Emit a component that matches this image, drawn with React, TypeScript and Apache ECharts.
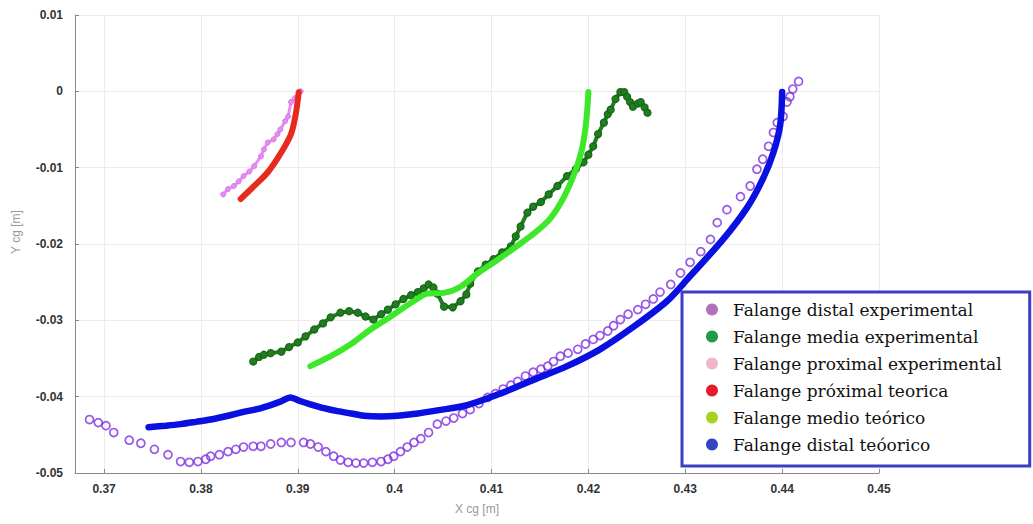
import React, { useEffect, useRef } from "react";
import * as echarts from "echarts";

// Falange distal experimental (open purple circles)
const distalExp: [number, number][] = [
  [0.3685, -0.043], [0.3694, -0.0434], [0.3702, -0.0438], [0.371, -0.0447], [0.3726, -0.0457],
  [0.3738, -0.0461], [0.3752, -0.0469], [0.3766, -0.0476], [0.3779, -0.0485], [0.3788, -0.0486],
  [0.3797, -0.0485], [0.3805, -0.0482], [0.381, -0.0478], [0.3819, -0.0476], [0.3828, -0.0472],
  [0.3836, -0.0469], [0.3844, -0.0466], [0.3854, -0.0465], [0.3862, -0.0465], [0.3872, -0.0462],
  [0.3883, -0.046], [0.3893, -0.046], [0.3906, -0.046], [0.3913, -0.0462], [0.3921, -0.0466],
  [0.3929, -0.0472], [0.3937, -0.0478], [0.3944, -0.0483], [0.3952, -0.0486], [0.396, -0.0487],
  [0.3968, -0.0487], [0.3977, -0.0486], [0.3986, -0.0485], [0.3993, -0.0482], [0.3999, -0.0478],
  [0.4006, -0.0472], [0.4013, -0.0466], [0.402, -0.046], [0.4027, -0.0455], [0.4035, -0.0447],
  [0.4044, -0.0436], [0.4053, -0.0432], [0.4061, -0.0428], [0.407, -0.0422], [0.4078, -0.0417],
  [0.4087, -0.0409], [0.4096, -0.0401], [0.4104, -0.0396], [0.4112, -0.039], [0.412, -0.0385],
  [0.4127, -0.038], [0.4135, -0.0373], [0.4143, -0.0368], [0.4151, -0.0364], [0.4158, -0.036],
  [0.4164, -0.0354], [0.4171, -0.0347], [0.4179, -0.0343], [0.4189, -0.0338], [0.4197, -0.0331],
  [0.4205, -0.0325], [0.4212, -0.032], [0.422, -0.0314], [0.4226, -0.0307], [0.4233, -0.0299],
  [0.4241, -0.0292], [0.4251, -0.0286], [0.4259, -0.0279], [0.4267, -0.0272], [0.4274, -0.0263],
  [0.4285, -0.0253], [0.4295, -0.0238], [0.4305, -0.0224], [0.4316, -0.021], [0.4326, -0.0194],
  [0.4333, -0.0172], [0.4343, -0.0155], [0.4357, -0.0138], [0.4367, -0.0124], [0.4374, -0.0102],
  [0.438, -0.0089], [0.4386, -0.0072], [0.4391, -0.0054], [0.4395, -0.0041], [0.4401, -0.0033],
  [0.4405, -0.0014], [0.4408, -0.0007], [0.4411, 0.0003], [0.4417, 0.0013],
];

// Falange media experimental (dark green dots)
const mediaExp: [number, number][] = [
  [0.3854, -0.0354], [0.386, -0.0348], [0.3865, -0.0345], [0.3872, -0.0343], [0.3883, -0.0341],
  [0.3891, -0.0335], [0.39, -0.0329], [0.3908, -0.0321], [0.3917, -0.0312], [0.3926, -0.0304],
  [0.3934, -0.0296], [0.3944, -0.029], [0.3953, -0.0288], [0.3962, -0.029], [0.397, -0.0295],
  [0.3978, -0.0299], [0.3986, -0.0292], [0.3993, -0.0286], [0.4001, -0.0279], [0.4009, -0.0272],
  [0.4017, -0.0267], [0.4024, -0.0263], [0.403, -0.0258], [0.4035, -0.0253], [0.404, -0.0257],
  [0.4044, -0.0265], [0.4051, -0.0282], [0.406, -0.0283], [0.4068, -0.0275], [0.4074, -0.0266],
  [0.4078, -0.0252], [0.4086, -0.0236], [0.4094, -0.0227], [0.4102, -0.022], [0.4111, -0.0211],
  [0.412, -0.0203], [0.4125, -0.019], [0.413, -0.0177], [0.4137, -0.0159], [0.4143, -0.0151],
  [0.4151, -0.0145], [0.4159, -0.0135], [0.4168, -0.0124], [0.4178, -0.0111], [0.4187, -0.0102],
  [0.4195, -0.0093], [0.42, -0.0083], [0.4205, -0.0072], [0.421, -0.0056], [0.4216, -0.0041],
  [0.422, -0.003], [0.4223, -0.0024], [0.4228, -0.001], [0.4233, -0.0001], [0.4237, -0.0001],
  [0.424, -0.0007], [0.4243, -0.0014], [0.4246, -0.002], [0.4251, -0.0016], [0.4254, -0.0014],
  [0.4258, -0.0021], [0.4261, -0.0028],
];

// Falange proximal experimental (light violet dots)
const proximalExp: [number, number][] = [
  [0.3823, -0.0135], [0.3828, -0.0128], [0.3834, -0.0124], [0.3839, -0.0118], [0.3844, -0.0111],
  [0.385, -0.0105], [0.3855, -0.0098], [0.3862, -0.0085], [0.3865, -0.0076], [0.3869, -0.0067],
  [0.3875, -0.0063], [0.3879, -0.0056], [0.3882, -0.005], [0.3887, -0.0039], [0.389, -0.0033],
  [0.3893, -0.0014], [0.3897, -0.0009], [0.39, -0.0007], [0.3903, 0.0],
];

// Falange próximal teorica (red line)
const proximalTeo: [number, number][] = [
  [0.3841, -0.0141], [0.3855, -0.0124], [0.3869, -0.0106], [0.3882, -0.0082],
  [0.3893, -0.0056], [0.3898, -0.0029], [0.3901, -0.0001],
];

// Falange medio teórico (light green line)
const medioTeo: [number, number][] = [
  [0.3913, -0.036], [0.3934, -0.0347], [0.3955, -0.0331], [0.3975, -0.0312], [0.3996, -0.0295],
  [0.4017, -0.0277], [0.4034, -0.0265], [0.4051, -0.0264], [0.4068, -0.0256], [0.4086, -0.0238],
  [0.4106, -0.0221], [0.4127, -0.0202], [0.4145, -0.0185], [0.4161, -0.0166], [0.4175, -0.0138],
  [0.4186, -0.0106], [0.4194, -0.0072], [0.4198, -0.0036], [0.42, -0.0001],
];

// Falange distal teóorico (blue line)
const distalTeo: [number, number][] = [
  [0.3746, -0.044], [0.3764, -0.0438], [0.3779, -0.0436], [0.3795, -0.0433], [0.381, -0.043],
  [0.3828, -0.0425], [0.3844, -0.042], [0.3859, -0.0416], [0.3872, -0.0411], [0.3883, -0.0406],
  [0.3892, -0.0401], [0.3903, -0.0406], [0.3913, -0.041], [0.3927, -0.0415], [0.3941, -0.0419],
  [0.3955, -0.0422], [0.3968, -0.0425], [0.3986, -0.0426], [0.4003, -0.0425], [0.4024, -0.0422],
  [0.4044, -0.0418], [0.4075, -0.0411], [0.4109, -0.0396], [0.4143, -0.0378], [0.4178, -0.036],
  [0.4212, -0.0338], [0.4246, -0.0309], [0.4281, -0.0275], [0.4305, -0.0242], [0.4339, -0.0194],
  [0.4364, -0.0152], [0.438, -0.0115], [0.4391, -0.008], [0.4398, -0.0044], [0.44, -0.0001],
];

const seriesNames = [
  "Falange distal experimental",
  "Falange media experimental",
  "Falange proximal experimental",
  "Falange próximal teorica",
  "Falange medio teórico",
  "Falange distal teóorico",
];
const legendColors = ["#9b4fa8", "#1f9a48", "#f2b3cc", "#e41c2a", "#a6d41e", "#3544c4"];

const xMin = 0.367;
const xMax = 0.45;
const yMin = -0.05;
const yMax = 0.01;
const yInterval = 0.01;

export default function App() {
  const ref = useRef<HTMLDivElement>(null);
  useEffect(() => {
    if (!ref.current) return;
    const chart = echarts.init(ref.current, undefined, { renderer: "svg" });
    const labelFont = "'Liberation Sans', Arial, sans-serif";
    const axisCommon = {
      axisLine: { show: true, onZero: false, lineStyle: { color: "#8a8a8a", width: 1 } },
      axisTick: { show: true, inside: true, length: 4, lineStyle: { color: "#8a8a8a" } },
      splitLine: { show: true, lineStyle: { color: "#ececec", width: 1 } },
      axisLabel: {
        color: "#333",
        fontSize: 12,
        fontWeight: "bold" as const,
        fontFamily: labelFont,
        formatter: (v: number) => String(+v.toFixed(3)),
      },
    };
    chart.setOption({
      animation: false,
      backgroundColor: "#ffffff",
      grid: { left: 75, right: 154, top: 15, bottom: 51, containLabel: false },
      xAxis: {
        type: "value",
        min: xMin,
        max: xMax,
        splitNumber: 8,
        ...axisCommon,
        axisLabel: { ...axisCommon.axisLabel, showMinLabel: false, margin: 10 },
        name: "X cg [m]",
        nameLocation: "middle",
        nameGap: 30,
        nameTextStyle: { color: "#999", fontSize: 12, fontFamily: labelFont },
      },
      yAxis: {
        type: "value",
        min: yMin,
        max: yMax,
        interval: yInterval,
        ...axisCommon,
        axisLabel: { ...axisCommon.axisLabel, margin: 12 },
      },
      graphic: [
        {
          type: "text",
          x: 16,
          y: 232,
          rotation: Math.PI / 2,
          style: {
            text: "Y cg [m]",
            fill: "#999",
            font: "12px " + labelFont,
            textAlign: "center",
            textVerticalAlign: "middle",
          },
        },
      ],
      legend: {
        show: true,
        orient: "vertical",
        left: 682,
        top: 292,
        backgroundColor: "#ffffff",
        borderColor: "#3b3fc4",
        borderWidth: 3,
        borderRadius: 0,
        padding: [9, 28, 13, 24],
        itemWidth: 32,
        itemHeight: 12,
        itemGap: 10,
        icon: "circle",
        selectedMode: false,
        textStyle: {
          fontFamily: "'DejaVu Serif', 'Liberation Serif', serif",
          fontSize: 17,
          lineHeight: 17,
          color: "#111",
        },
        data: seriesNames.map((n, i) => ({
          name: n,
          icon: "circle",
          itemStyle: { color: legendColors[i], borderWidth: 0 },
        })),
      },
      series: [
        {
          name: seriesNames[0],
          type: "scatter",
          data: distalExp,
          symbol: "circle",
          symbolSize: 8,
          itemStyle: { color: "rgba(0,0,0,0)", borderColor: "#7d2fe0", borderWidth: 1.7 },
          z: 2,
        },
        {
          name: seriesNames[1],
          type: "line",
          data: mediaExp,
          symbol: "circle",
          showSymbol: true,
          symbolSize: 7,
          lineStyle: { color: "#1f7f1f", width: 4 },
          itemStyle: { color: "#1f7f1f", borderColor: "#176317", borderWidth: 1.2 },
          z: 2,
        },
        {
          name: seriesNames[2],
          type: "line",
          data: proximalExp,
          symbol: "circle",
          showSymbol: true,
          symbolSize: 5,
          lineStyle: { color: "#e48ef0", width: 3 },
          itemStyle: { color: "#e48ef0", borderColor: "#d878ec", borderWidth: 1 },
          z: 2,
        },
        {
          name: seriesNames[3],
          type: "line",
          data: proximalTeo,
          showSymbol: false,
          smooth: 0.3,
          lineStyle: { color: "#e62b1e", width: 6, cap: "round" },
          itemStyle: { color: "#e62b1e" },
          z: 3,
        },
        {
          name: seriesNames[4],
          type: "line",
          data: medioTeo,
          showSymbol: false,
          smooth: 0.3,
          lineStyle: { color: "#3de82a", width: 6, cap: "round" },
          itemStyle: { color: "#3de82a" },
          z: 3,
        },
        {
          name: seriesNames[5],
          type: "line",
          data: distalTeo,
          showSymbol: false,
          smooth: 0.3,
          lineStyle: { color: "#0a10e0", width: 6.5, cap: "round" },
          itemStyle: { color: "#0a10e0" },
          z: 3,
        },
      ],
    });
    return () => chart.dispose();
  }, []);
  return (
    <div
      ref={ref}
      style={{ position: "absolute", left: 0, top: 0, width: 1033, height: 524 }}
    />
  );
}
